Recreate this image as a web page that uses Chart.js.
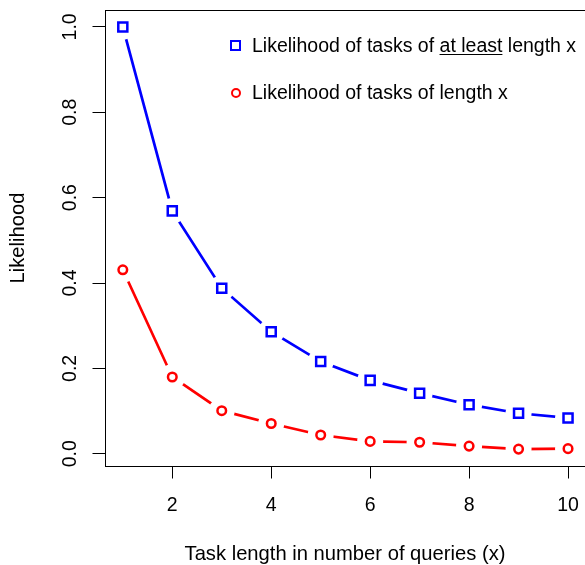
<!DOCTYPE html>
<html>
<head>
<meta charset="utf-8">
<title>Likelihood of task lengths</title>
<script src="https://cdn.jsdelivr.net/npm/chart.js@4.4.1/dist/chart.umd.min.js"></script>
<style>
    html, body { margin: 0; padding: 0; overflow: hidden; background: #fff; }
    #wrap { position: relative; width: 585px; height: 565px; }
    #grafico-likelihood { display: block; }
    .legenda { position: absolute; left: 0; top: 0; font-family: "Liberation Sans", Arial, sans-serif; font-size: 19.5px; color: #000; }
    .item { position: absolute; left: 252px; white-space: nowrap; line-height: 20px; }
    .item u { text-decoration-thickness: 1.3px; text-underline-offset: 2px; }
    .marca { position: absolute; box-sizing: border-box; }
    .marca.quadrado { width: 11px; height: 11px; border: 2.5px solid #0000ff; }
    .marca.circulo { width: 10.5px; height: 10.5px; border: 2.5px solid #ff0000; border-radius: 50%; }
</style>
</head>
<body>
<div id="wrap">
    <canvas id="grafico-likelihood" width="585" height="565"></canvas>
    <div class="legenda">
        <span class="marca quadrado" style="left:230px; top:39.5px"></span>
        <div class="item" style="top:35px">Likelihood of tasks of <u>at least</u> length x</div>
        <span class="marca circulo" style="left:230.5px; top:87.5px"></span>
        <div class="item" style="top:81.5px">Likelihood of tasks of length x</div>
    </div>
</div>
<script>
// Dados
const comprimentos = [1, 2, 3, 4, 5, 6, 7, 8, 9, 10];
const probPeloMenos = [1.000, 0.569, 0.388, 0.286, 0.216, 0.172, 0.142, 0.115, 0.095, 0.084];
const probExata = [0.431, 0.180, 0.101, 0.071, 0.044, 0.029, 0.027, 0.018, 0.011, 0.012];
const ticksX = [2, 4, 6, 8, 10];
const ticksY = [0.0, 0.2, 0.4, 0.6, 0.8, 1.0];

const AZUL = '#0000ff';
const VERMELHO = '#ff0000';
const FONTE = { family: '"Liberation Sans", Arial, sans-serif', size: 19.5 };
const FONTE_TITULO = { family: '"Liberation Sans", Arial, sans-serif', size: 20.2 };

function pontos(valores) {
    return comprimentos.map((x, i) => ({ x: x, y: valores[i] }));
}

// caixa em volta da área do gráfico (estilo R)
const caixaPlugin = {
    id: 'caixa',
    afterDraw(chart) {
        const { ctx, chartArea: a } = chart;
        ctx.save();
        ctx.strokeStyle = '#000';
        ctx.lineWidth = 1;
        ctx.strokeRect(Math.round(a.left) + 0.5, Math.round(a.top) + 0.5,
            Math.round(a.right - a.left) + 1, Math.round(a.bottom - a.top));
        ctx.restore();
    }
};

// linha + "halo" branco (para o espaço em volta dos pontos) + marcador
function conjuntos(valores, cor, estilo, raio) {
    return [
        {
            label: 'linha',
            data: pontos(valores),
            showLine: true,
            borderColor: cor,
            borderWidth: 2.7,
            pointRadius: 0,
            pointHoverRadius: 0,
            order: 3
        },
        {
            label: 'halo',
            data: pontos(valores),
            showLine: false,
            pointRadius: 13,
            pointHoverRadius: 13,
            pointBackgroundColor: '#fff',
            pointBorderWidth: 0,
            pointBorderColor: '#fff',
            order: 2
        },
        {
            label: 'marcador',
            data: pontos(valores),
            showLine: false,
            pointStyle: estilo,
            pointRadius: raio,
            pointHoverRadius: raio,
            pointBackgroundColor: '#fff',
            pointBorderColor: cor,
            pointBorderWidth: 2.5,
            order: 1
        }
    ];
}

const ctx = document.getElementById('grafico-likelihood');

new Chart(ctx.getContext('2d'), {
    type: 'scatter',
    data: {
        datasets: [
            ...conjuntos(probPeloMenos, AZUL, 'rect', 6.4),
            ...conjuntos(probExata, VERMELHO, 'circle', 4.3)
        ]
    },
    options: {
        responsive: false,
        animation: false,
        events: [],
        layout: {
            autoPadding: false,
            padding: { top: 10, right: 0, left: 0, bottom: 0 }
        },
        plugins: {
            legend: { display: false },
            tooltip: { enabled: false }
        },
        scales: {
            x: {
                type: 'linear',
                min: 0.64,
                max: 10.343,   // a caixa do gráfico original fica cortada à direita
                border: { display: false },
                grid: {
                    drawOnChartArea: false,
                    drawTicks: true,
                    tickLength: 12.5,
                    color: '#000',
                    lineWidth: 1
                },
                ticks: {
                    color: '#000',
                    font: FONTE,
                    padding: 15,
                    maxRotation: 0,
                    callback: (v) => String(v)
                },
                afterBuildTicks: (escala) => {
                    escala.ticks = ticksX.map(v => ({ value: v }));
                },
                afterFit: (escala) => {
                    escala.height = 99;
                    escala.paddingLeft = 0;
                    escala.paddingRight = 0;
                },
                title: {
                    display: true,
                    text: 'Task length in number of queries (x)',
                    color: '#000',
                    font: FONTE_TITULO,
                    padding: { top: 0, bottom: -2 }
                }
            },
            y: {
                type: 'linear',
                min: -0.0286,
                max: 1.0396,
                border: { display: false },
                grid: {
                    drawOnChartArea: false,
                    drawTicks: true,
                    tickLength: 12.5,
                    color: '#000',
                    lineWidth: 1
                },
                ticks: {
                    color: '#000',
                    font: FONTE,
                    padding: 8,
                    minRotation: 90,
                    maxRotation: 90,
                    crossAlign: 'center',
                    callback: (v) => Number(v).toFixed(1)
                },
                afterBuildTicks: (escala) => {
                    escala.ticks = ticksY.map(v => ({ value: v }));
                },
                afterFit: (escala) => {
                    escala.width = 105;
                    escala.paddingTop = 0;
                    escala.paddingBottom = 0;
                },
                title: {
                    display: true,
                    text: 'Likelihood',
                    color: '#000',
                    font: FONTE_TITULO,
                    padding: { top: 6, bottom: 0 }
                }
            }
        }
    },
    plugins: [caixaPlugin]
});
</script>
</body>
</html>
